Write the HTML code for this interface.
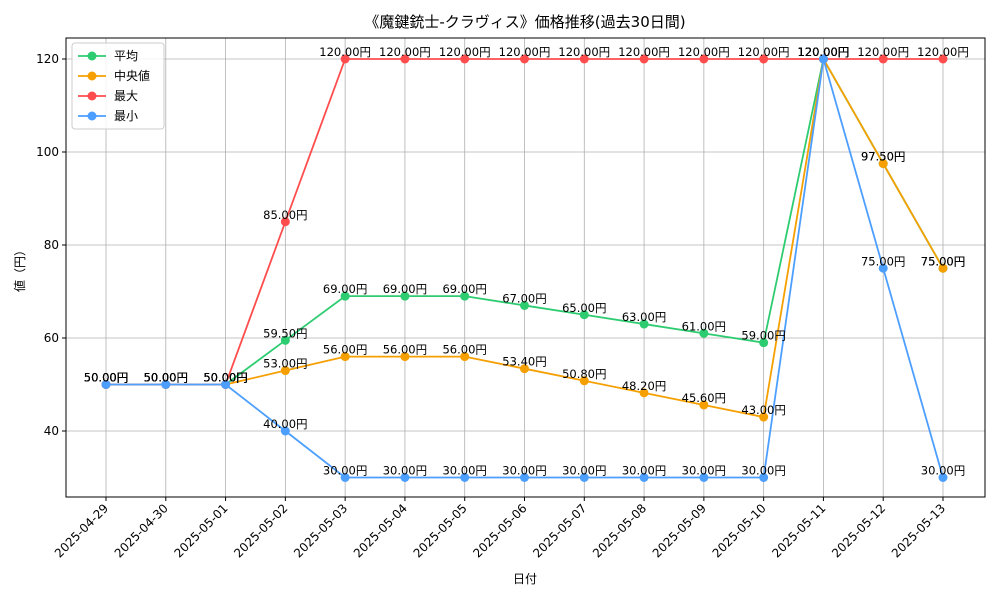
<!DOCTYPE html>
<html><head><meta charset="utf-8"><style>
body{margin:0;background:#fff}
svg{font-family:"DejaVu Sans","Noto Sans CJK JP",sans-serif}
</style></head><body>
<svg id="chart" width="1000" height="600" xmlns="http://www.w3.org/2000/svg">
<rect width="1000" height="600" fill="#fff"/>
<text x="525" y="27" text-anchor="middle" font-size="15">《魔鍵銃士-クラヴィス》価格推移(過去30日間)</text>
<g id="grid"></g>
<g id="axes"></g>
<g id="series"></g>
<g id="labels"></g>
<rect x="66" y="38" width="919" height="459" fill="none" stroke="#000" stroke-width="1"/>
<text x="525" y="583" text-anchor="middle" font-size="12">日付</text>
<text transform="translate(24,268) rotate(-90)" text-anchor="middle" font-size="12">値（円）</text>
<g id="legend"></g>
</svg>
<script>
const dates=["2025-04-29","2025-04-30","2025-05-01","2025-05-02","2025-05-03","2025-05-04","2025-05-05","2025-05-06","2025-05-07","2025-05-08","2025-05-09","2025-05-10","2025-05-11","2025-05-12","2025-05-13"];
const avgValues=[50,50,50,59.5,69,69,69,67,65,63,61,59,120,97.5,75];
const medianValues=[50,50,50,53,56,56,56,53.4,50.8,48.2,45.6,43,120,97.5,75];
const maxValues=[50,50,50,85,120,120,120,120,120,120,120,120,120,120,120];
const minValues=[50,50,50,40,30,30,30,30,30,30,30,30,120,75,30];
const yTicks=[40,60,80,100,120];
const seriesNames=["平均","中央値","最大","最小"];
const NS="http://www.w3.org/2000/svg";
const X0=106,X1=943,PL=66,PR=985,PT=38,PB=497;
function xs(i){return X0+(X1-X0)*i/(dates.length-1);}
function ys(v){return 431-(v-40)*(431-59)/80;}
function mk(tag,attrs,parent,text){const e=document.createElementNS(NS,tag);for(const k in attrs)e.setAttribute(k,attrs[k]);if(text!==undefined)e.textContent=text;parent.appendChild(e);return e;}
const grid=document.getElementById('grid'),axes=document.getElementById('axes');
dates.forEach((d,i)=>{
  const x=xs(i);
  const g=mk('line',{x1:x,x2:x,y1:PT,y2:PB,stroke:'#b0b0b0','stroke-width':0.8},grid);
  
  
  mk('line',{x1:x,x2:x,y1:PB,y2:PB+4,stroke:'#000'},axes);
  const t=mk('text',{transform:`translate(${x+3},${PB+12}) rotate(-45)`,'text-anchor':'end','font-size':12},axes,d);
  
  
});
yTicks.forEach(v=>{
  const y=ys(v);
  const g=mk('line',{x1:PL,x2:PR,y1:y,y2:y,stroke:'#b0b0b0','stroke-width':0.8},grid);
  
  
  mk('line',{x1:PL-4,x2:PL,y1:y,y2:y,stroke:'#000'},axes);
  const t=mk('text',{x:PL-7,y:y+4,'text-anchor':'end','font-size':12},axes,String(v));
  
  
});
const series=[[avgValues,'#2ecc71','avg'],[medianValues,'#f5a000','median'],[maxValues,'#ff4d4d','max'],[minValues,'#4d9fff','min']];
const sg=document.getElementById('series'),lg=document.getElementById('labels');
series.forEach(([vals,c,n])=>{
  const p=mk('polyline',{points:vals.map((v,i)=>xs(i)+','+ys(v)).join(' '),fill:'none',stroke:c,'stroke-width':1.8},sg);
  
  
  vals.forEach((v,i)=>{
    const m=mk('circle',{cx:xs(i),cy:ys(v),r:4.5,fill:c},sg);
    
    
    const t=mk('text',{x:xs(i),y:ys(v)-3,'text-anchor':'middle','font-size':11.5},lg,v.toFixed(2)+'円');
    
    
  });
});
const leg=document.getElementById('legend');
const box=mk('rect',{x:72,y:43,width:92,height:86,rx:3,fill:'#fff','fill-opacity':0.85,stroke:'#ccc'},leg);


seriesNames.forEach((nm,i)=>{
  const y=56+i*20,c=series[i][1];
  mk('line',{x1:78,x2:106,y1:y,y2:y,stroke:c,'stroke-width':1.8},leg);
  mk('circle',{cx:92,cy:y,r:4.5,fill:c},leg);
  const t=mk('text',{x:114,y:y+4,'font-size':12},leg,nm);
  
  
});
</script>
</body></html>
